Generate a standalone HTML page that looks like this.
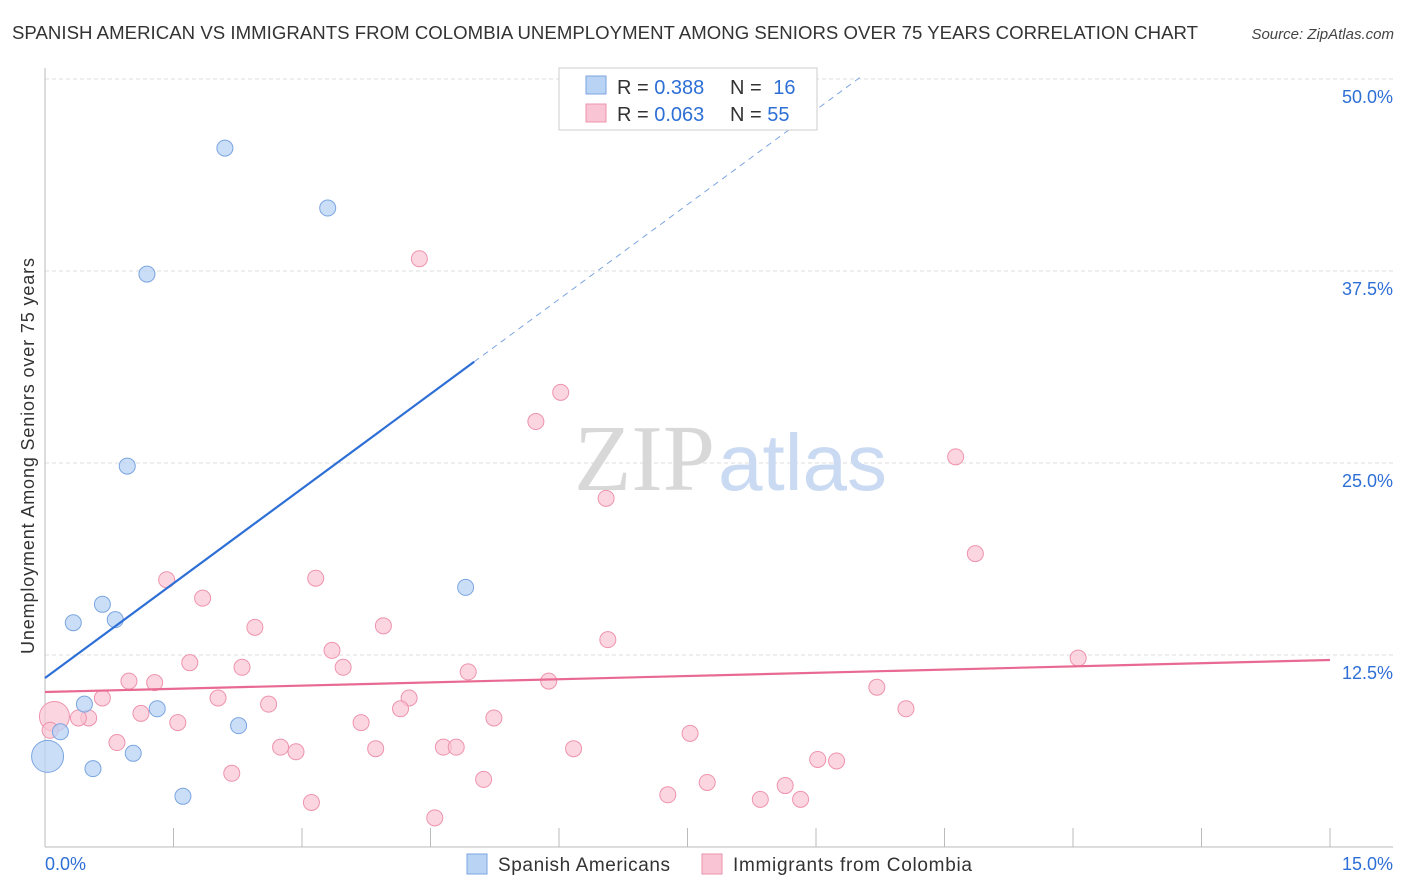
<!DOCTYPE html>
<html><head><meta charset="utf-8"><style>
body{margin:0;background:#fff;font-family:"Liberation Sans",sans-serif;}
svg{display:block}
</style></head><body>
<svg width="1406" height="892" viewBox="0 0 1406 892">
<text x="12" y="39" font-size="18.6" fill="#333" textLength="1186">SPANISH AMERICAN VS IMMIGRANTS FROM COLOMBIA UNEMPLOYMENT AMONG SENIORS OVER 75 YEARS CORRELATION CHART</text>
<text x="1394" y="39" font-size="15" fill="#444" font-style="italic" text-anchor="end">Source: ZipAtlas.com</text>
<text x="0" y="0" transform="translate(34,456) rotate(-90)" font-size="18" fill="#333" text-anchor="middle" textLength="396">Unemployment Among Seniors over 75 years</text>
<g id="grid"></g>
<text x="715" y="490" font-size="94" fill="#d8d8d8" text-anchor="end" font-family="Liberation Serif,serif">ZIP</text>
<text x="718" y="490" font-size="80" fill="#c9daf2">atlas</text>
<g id="marks"></g>
<g>
<rect x="559" y="68" width="258" height="62" fill="#fff" stroke="#ccc"/>
<rect x="586" y="76" width="20" height="18" fill="#b9d3f5" stroke="#7aa5e0"/>
<rect x="586" y="104" width="20" height="18" fill="#f9c4d3" stroke="#ee93ad"/>
<text x="617" y="94" font-size="20" fill="#333">R = <tspan fill="#2e6fd6">0.388</tspan></text>
<text x="730" y="94" font-size="20" fill="#333">N = <tspan dx="6" fill="#2e6fd6">16</tspan></text>
<text x="617" y="121" font-size="20" fill="#333">R = <tspan fill="#2e6fd6">0.063</tspan></text>
<text x="730" y="121" font-size="20" fill="#333">N = <tspan fill="#2e6fd6">55</tspan></text>
</g>
<g>
<rect x="467" y="854" width="20" height="20" fill="#b9d3f5" stroke="#7aa5e0"/>
<text x="498" y="871" font-size="19" fill="#333" textLength="172">Spanish Americans</text>
<rect x="702" y="854" width="20" height="20" fill="#f9c4d3" stroke="#ee93ad"/>
<text x="733" y="871" font-size="19" fill="#333" textLength="239">Immigrants from Colombia</text>
</g>
</svg>
<script>
const yTicks=[12.5,25,37.5,50];
const xTickLabels=["0.0%","15.0%"];
const blueX=[2.10,3.30,1.19,0.96,0.33,0.67,0.82,4.91,0.46,0.18,1.31,2.26,0.56,1.03,1.61,0.03];
const blueY=[45.5,41.6,37.3,24.8,14.6,15.8,14.8,16.9,9.3,7.5,9.0,7.9,5.1,6.1,3.3,5.9];
const blueR=[8,8,8,8,8,8,8,8,8,8,8,8,8,8,8,16];
const pinkX=[4.37,6.02,5.73,10.63,6.55,10.86,1.42,3.16,1.84,2.45,3.95,6.57,3.35,1.69,2.30,3.48,4.94,12.06,0.98,1.28,5.88,9.71,0.67,2.02,4.25,2.61,4.15,10.05,1.12,0.51,0.39,0.11,1.55,3.69,5.24,7.53,0.84,2.75,2.93,3.86,4.65,4.80,6.17,9.02,9.24,2.18,5.12,7.73,8.64,7.27,8.35,8.82,3.11,4.55,0.06];
const pinkY=[38.3,29.6,27.7,25.4,22.7,19.1,17.4,17.5,16.2,14.3,14.4,13.5,12.8,12.0,11.7,11.7,11.4,12.3,10.8,10.7,10.8,10.4,9.7,9.7,9.7,9.3,9.0,9.0,8.7,8.4,8.4,8.5,8.1,8.1,8.4,7.4,6.8,6.5,6.2,6.4,6.5,6.5,6.4,5.7,5.6,4.8,4.4,4.2,4.0,3.4,3.1,3.1,2.9,1.9,7.6];
const blueTrend=[11.0,4.11]; // intercept, slope
const pinkTrend=[10.09,0.139];
const NS="http://www.w3.org/2000/svg";
const sx=v=>45+v/15*1285, sy=v=>847-v/50*768;
function mk(tag,attrs,parent){const e=document.createElementNS(NS,tag);for(const k in attrs)e.setAttribute(k,attrs[k]);parent.appendChild(e);return e;}
const grid=document.getElementById('grid'), marks=document.getElementById('marks');
yTicks.forEach(t=>{
 const l=mk('line',{x1:45,x2:1393,y1:sy(t),y2:sy(t),stroke:'#ddd','stroke-dasharray':'4,3'},grid);
 
 
 const tx=mk('text',{x:1393,y:sy(t)+24,'font-size':18,fill:'#2e6fd6','text-anchor':'end'},grid);
 tx.textContent=t.toFixed(1)+'%';
 
 
});
mk('line',{x1:45,x2:45,y1:68,y2:847,stroke:'#bbb'},grid);
mk('line',{x1:45,x2:1393,y1:847,y2:847,stroke:'#bbb'},grid);
for(let i=0;i<=10;i++){const x=sx(i*1.5);const t=mk('line',{x1:x,x2:x,y1:828,y2:847,stroke:'#bbb'},grid);}
const xl0=mk('text',{x:45,y:870,'font-size':18,fill:'#2e6fd6'},grid);xl0.textContent=xTickLabels[0];


const xl1=mk('text',{x:1393,y:870,'font-size':18,fill:'#2e6fd6','text-anchor':'end'},grid);xl1.textContent=xTickLabels[1];


pinkX.forEach((x,i)=>{const c=mk('circle',{cx:sx(x),cy:sy(pinkY[i]),r:(i==31?15:8),fill:'#f9c4d3','fill-opacity':0.7,stroke:'#ee93ad'},marks);

});
blueX.forEach((x,i)=>{const c=mk('circle',{cx:sx(x),cy:sy(blueY[i]),r:blueR[i],fill:'#b9d3f5','fill-opacity':0.75,stroke:'#7aa5e0'},marks);

});
const bEnd=5.01, bMax=(50-blueTrend[0])/blueTrend[1]+0.05;
const b1=mk('line',{x1:sx(0),y1:sy(blueTrend[0]),x2:sx(bEnd),y2:sy(blueTrend[0]+blueTrend[1]*bEnd),stroke:'#2e6fd6','stroke-width':2.2},marks);


const b2=mk('line',{x1:sx(bEnd),y1:sy(blueTrend[0]+blueTrend[1]*bEnd),x2:sx(bMax),y2:sy(blueTrend[0]+blueTrend[1]*bMax),stroke:'#7aa5e0','stroke-width':1,'stroke-dasharray':'6,5'},marks);


const p1=mk('line',{x1:sx(0),y1:sy(pinkTrend[0]),x2:sx(15),y2:sy(pinkTrend[0]+pinkTrend[1]*15),stroke:'#e86a92','stroke-width':2.2},marks);


</script>
</body></html>
